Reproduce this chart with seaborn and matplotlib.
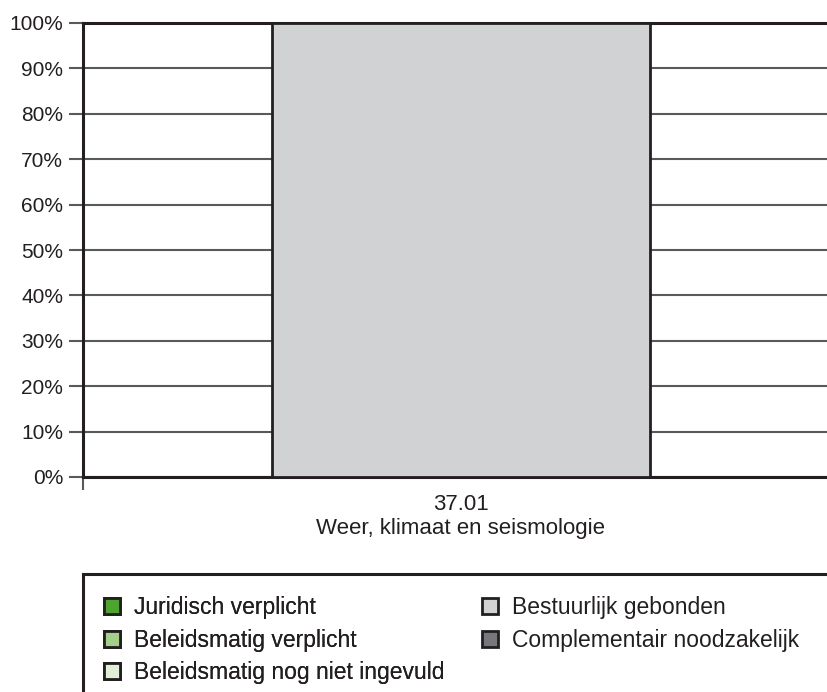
import matplotlib
matplotlib.use("Agg")
import matplotlib.pyplot as plt
import matplotlib.patches as mpatches
import seaborn as sns
import pandas as pd

# chart data
categories = ["37.01\nWeer, klimaat en seismologie"]
series_names = ["Juridisch verplicht", "Beleidsmatig verplicht",
                "Beleidsmatig nog niet ingevuld", "Bestuurlijk gebonden",
                "Complementair noodzakelijk"]
juridisch = [0]
beleid_verplicht = [0]
beleid_open = [0]
bestuurlijk = [100]
complementair = [0]
colors = ["#4da52f", "#a5cf8a", "#e2efd8", "#d0d2d4", "#77787b"]
y_ticks = list(range(0, 101, 10))

sns.set_style("white")
plt.rcParams["font.family"] = ["Liberation Sans", "DejaVu Sans"]

df = pd.DataFrame({"cat": categories, "Juridisch verplicht": juridisch,
                   "Beleidsmatig verplicht": beleid_verplicht,
                   "Beleidsmatig nog niet ingevuld": beleid_open,
                   "Bestuurlijk gebonden": bestuurlijk,
                   "Complementair noodzakelijk": complementair})

fig = plt.figure(figsize=(8.28, 6.92), dpi=100)
ax = fig.add_axes([83 / 828, 1 - 477 / 692, 1 - 83 / 828, 454 / 692])

# stacked bars, one seaborn call per series
bottom = [0] * len(categories)
for name, col in zip(series_names, colors):
    if df[name].sum() > 0:
        sns.barplot(data=df, x="cat", y=name, color=col, width=0.5, ax=ax,
                    bottom=bottom, edgecolor="#231f20", linewidth=2, zorder=3)
    bottom = [b + v for b, v in zip(bottom, df[name])]

ax.set_xlim(-0.5, 0.486)
ax.set_ylim(0, 100)
ax.set_yticks(y_ticks)
ax.set_yticklabels([f"{t}%" for t in y_ticks], fontsize=15, color="#231f20")
ax.yaxis.grid(True, color="#58595b", linewidth=1.5, zorder=0)
ax.set_axisbelow(True)
ax.tick_params(axis="y", length=10, width=1.5, color="#58595b", pad=4.3, left=True)
ax.tick_params(axis="x", length=0, pad=12, labelsize=16, labelcolor="#231f20")
ax.set_xticks([-0.5], minor=True)
ax.tick_params(axis="x", which="minor", length=9.4, width=1.5, color="#58595b", bottom=True)
ax.set_xlabel("")
ax.set_ylabel("")
for s in ["left", "top", "bottom"]:
    ax.spines[s].set_color("#231f20")
    ax.spines[s].set_linewidth(2.2)
ax.spines["right"].set_visible(False)
for lbl in ax.get_xticklabels():
    lbl.set_linespacing(1.2)

# legend box, runs off the right and bottom edge
box = mpatches.Rectangle((83 / 828, -0.05), 1.0, 1 - 574 / 692 + 0.05,
                         transform=fig.transFigure, fill=False,
                         edgecolor="#231f20", linewidth=2.2)
fig.patches.append(box)
handles = [mpatches.Patch(facecolor=c, edgecolor="#231f20", linewidth=2, label=n)
           for n, c in zip(series_names, colors)]
leg_kw = dict(frameon=False, loc="upper left", fontsize=16.5, borderpad=0,
              borderaxespad=0, handlelength=0.7, handleheight=0.7,
              handletextpad=0.6, labelspacing=0.42, labelcolor="#231f20")
leg1 = fig.legend(handles=handles[:3], bbox_to_anchor=(104 / 828, 1 - 596 / 692), **leg_kw)
fig.legend(handles=handles[3:], bbox_to_anchor=(482 / 828, 1 - 596 / 692), **leg_kw)
fig.add_artist(leg1)

fig.savefig("out.png", dpi=100)
